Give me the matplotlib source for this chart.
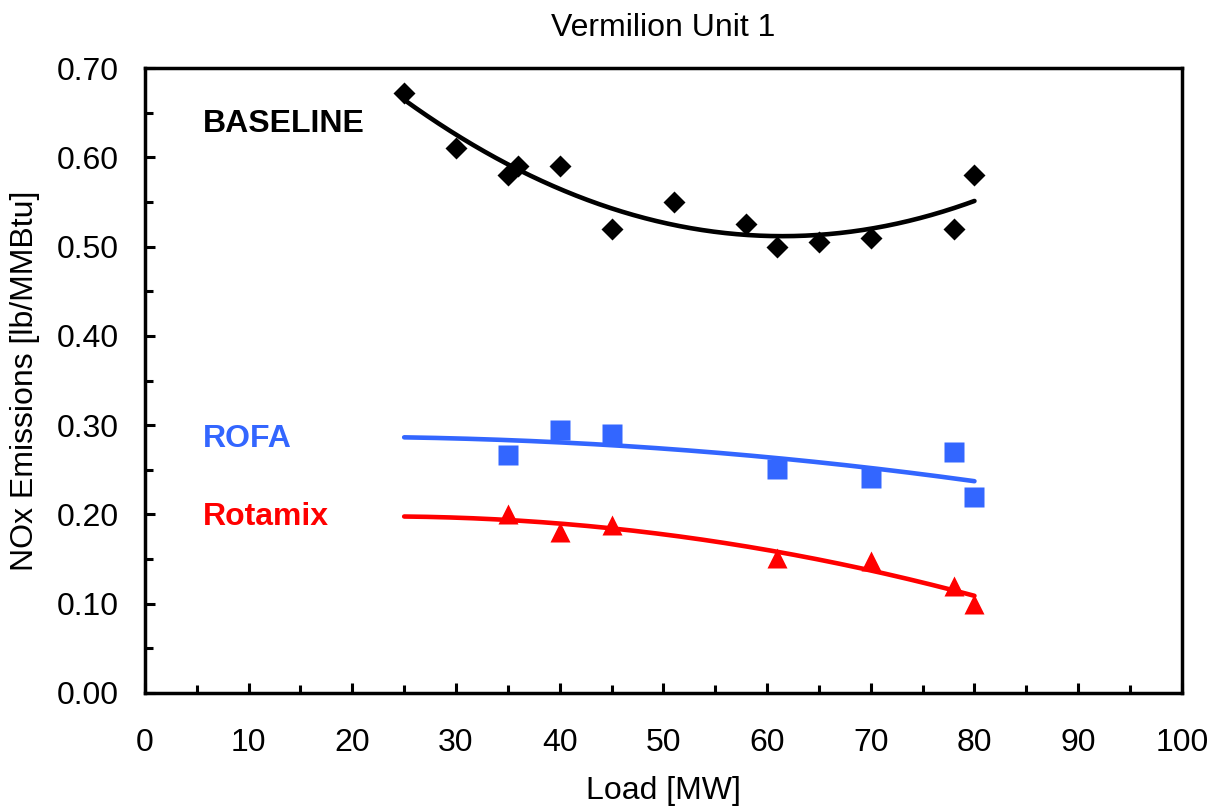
import numpy as np
import matplotlib
matplotlib.use("Agg")
import matplotlib.pyplot as plt
from matplotlib.ticker import MultipleLocator, FormatStrFormatter

plt.rcParams['font.family'] = ['Liberation Sans', 'DejaVu Sans']

title = "Vermilion Unit 1"
xlabel = "Load [MW]"
ylabel = "NOx Emissions [lb/MMBtu]"

baseline_x = [25, 30, 35, 36, 40, 45, 51, 58, 61, 65, 70, 78, 80]
baseline_y = [0.672, 0.610, 0.580, 0.590, 0.590, 0.520, 0.550, 0.525, 0.500, 0.505, 0.510, 0.520, 0.580]

rofa_x = [35, 40, 45, 61, 70, 78, 80]
rofa_y = [0.267, 0.295, 0.290, 0.251, 0.241, 0.270, 0.220]

rotamix_x = [35, 40, 45, 61, 70, 78, 80]
rotamix_y = [0.200, 0.180, 0.188, 0.151, 0.148, 0.120, 0.100]

trend_start = 25
trend_end = 80

blue = "#3366FF"
red = "#FF0000"

fig = plt.figure(figsize=(12.17, 8.07), dpi=100)
ax = fig.add_axes([0.1191, 0.1413, 0.852, 0.7744])

xs = np.linspace(trend_start, trend_end, 200)
for x, y, color in [(baseline_x, baseline_y, "black"),
                    (rofa_x, rofa_y, blue),
                    (rotamix_x, rotamix_y, red)]:
    c = np.polyfit(x, y, 2)
    ax.plot(xs, np.polyval(c, xs), color=color, lw=3.3, solid_capstyle='round', zorder=2)

ax.plot(baseline_x, baseline_y, 'D', color='black', ms=11, mec='none', zorder=3)
ax.plot(rofa_x, rofa_y, 's', color=blue, ms=14.5, mec='none', zorder=3)
ax.plot(rotamix_x, rotamix_y, '^', color=red, ms=15, mec='none', zorder=3)

ax.text(5.6, 0.637, "BASELINE", fontsize=23, fontweight='bold', color='black', va='center')
ax.text(5.6, 0.284, "ROFA", fontsize=23, fontweight='bold', color=blue, va='center')
ax.text(5.6, 0.197, "Rotamix", fontsize=23, fontweight='bold', color=red, va='center')

ax.set_xlim(0, 100)
ax.set_ylim(0, 0.70)
ax.xaxis.set_major_locator(MultipleLocator(10))
ax.xaxis.set_minor_locator(MultipleLocator(5))
ax.yaxis.set_major_locator(MultipleLocator(0.1))
ax.yaxis.set_minor_locator(MultipleLocator(0.05))
ax.yaxis.set_major_formatter(FormatStrFormatter('%.2f'))

ax.tick_params(which='both', direction='in', width=2.2, labelsize=23, top=False, right=False)
ax.tick_params(which='major', length=7.5)
ax.tick_params(which='minor', length=5.5)
ax.tick_params(axis='x', which='major', pad=25)
ax.tick_params(axis='y', which='major', pad=19)
for s in ax.spines.values():
    s.set_linewidth(2.5)

ax.set_title(title, fontsize=23, pad=23)
ax.set_xlabel(xlabel, fontsize=23, labelpad=13)
ax.set_ylabel(ylabel, fontsize=23, labelpad=12)

fig.savefig("out.png", dpi=100)
